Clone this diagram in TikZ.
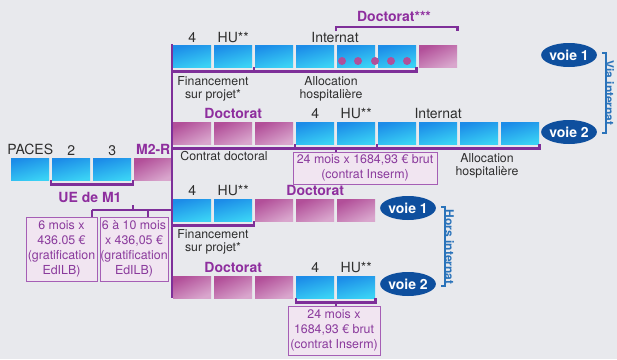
\documentclass[tikz,border=0pt]{standalone}
\usepackage{fontspec}
\setmainfont{TeX Gyre Heros}
\usetikzlibrary{shapes.geometric,positioning,calc}
\definecolor{bgc}{HTML}{E8E9ED}
\definecolor{bluA}{HTML}{1C8CE8}
\definecolor{bluB}{HTML}{3AD2F5}
\definecolor{pnkA}{HTML}{B24F99}
\definecolor{pnkB}{HTML}{D9A6CD}
\definecolor{plum}{HTML}{7E2F99}
\definecolor{phdtxt}{HTML}{8E2E9E}
\definecolor{ink}{HTML}{2E2E2E}
\definecolor{boxfill}{HTML}{F1E5F1}
\definecolor{boxline}{HTML}{A55EB5}
\definecolor{boxtxt}{HTML}{8A3A9C}
\definecolor{navy}{HTML}{0E4F9E}
\definecolor{viablue}{HTML}{2A73BA}
\definecolor{dotc}{HTML}{B0509A}

\tikzset{
  blu/.style={anchor=north west,minimum width=38pt,minimum height=22pt,inner sep=0pt,
    top color=bluA,bottom color=bluB,shading angle=15},
  pnk/.style={anchor=north west,minimum width=38pt,minimum height=22pt,inner sep=0pt,
    top color=pnkA,bottom color=pnkB,shading angle=25},
  lbl/.style={font=\fontsize{14}{14}\selectfont,text=ink,inner sep=0pt},
  phd/.style={font=\bfseries\fontsize{14}{14}\selectfont,text=phdtxt,inner sep=0pt},
  sml/.style={font=\fontsize{12.3}{13}\selectfont,text=ink,align=center,inner sep=0pt},
  pay/.style={draw=boxline,fill=boxfill,text=boxtxt,line width=1pt,align=center,
    font=\fontsize{12.4}{15}\selectfont,inner sep=0pt},
  voie/.style={ellipse,fill=navy,text=white,font=\bfseries\fontsize{14}{14}\selectfont,
    minimum width=46pt,minimum height=24pt,inner sep=0pt},
  brk/.style={draw=plum,line width=2.2pt},
  vbrk/.style={draw=viablue,line width=2pt},
  side/.style={text=viablue,font=\bfseries\fontsize{12}{12}\selectfont,rotate=-90,inner sep=0pt}
}

\begin{document}
\begin{tikzpicture}[x=1pt,y=-1pt]
\useasboundingbox[fill=bgc] (0,0) rectangle (617,359);

% trunk
\coordinate (trunkN) at (172,44);
\coordinate (trunkS) at (172,298);
\draw[brk,line width=2.8pt] (trunkN) -- (trunkS);

% PACES row
\foreach \i/\s in {1/blu,2/blu,3/blu,4/pnk}
  \node[\s] (p\i) at ({11+41*(\i-1)},158) {};
\node[lbl,above=3pt of p1] (lp1) {PACES};
\node[lbl,above=2pt of p2] (lp2) {2};
\node[lbl,above=2pt of p3] (lp3) {3};
\node[phd,above=3pt of p4] (lp4) {M2-R};

% voie 1, via internat
\foreach \i/\s in {1/blu,2/blu,3/blu,4/blu,5/blu,6/blu,7/pnk}
  \node[\s] (a\i) at ({173+41*(\i-1)},45) {};
\foreach \x in {342,358,375,391,407}
  \fill[dotc] (\x,61) circle (4pt);
\node[lbl,above=2pt of a1] (la1) {4};
\node[lbl,above=2pt of a2] (la2) {HU**};
\node[lbl,anchor=south] (la4) at (335,43) {Internat};
\node[phd,anchor=south] (la7) at (394,22) {Doctorat***};
\draw[brk] ($(a4.north east)!.5!(a5.north west)+(0,-14)$) -- ++(0,-4) -| ($(a7.north east)+(0,-14)$);
\draw[brk] (a6.south east) -- ++(0,4) -| (trunkN);
\draw[brk] ($(a2.south east)!.5!(a3.south west)$) -- ++(0,4);
\node[sml,anchor=north] (fa1) at (213,76) {Financement\\sur projet*};
\node[sml,anchor=north] (fa2) at (331,76) {Allocation\\hospitalière};

% voie 2, via internat
\foreach \i/\s in {1/pnk,2/pnk,3/pnk,4/blu,5/blu,6/blu,7/blu,8/blu,9/blu}
  \node[\s] (b\i) at ({173+41*(\i-1)},122) {};
\node[phd,above=3pt of b2] (lb2) {Doctorat};
\node[lbl,above=3pt of b4] (lb4) {4};
\node[lbl,above=3pt of b5] (lb5) {HU**};
\node[lbl,above=3pt of b7] (lb7) {Internat};
\draw[brk] (b9.south east) -- ++(0,4) -| (trunkN);
\draw[brk] ($(b3.south east)!.5!(b4.south west)$) -- ++(0,4);
\draw[brk] ($(b5.south east)!.5!(b6.south west)$) -- ++(0,4);
\node[pay,minimum width=144pt,minimum height=32pt] (pb) at (365,168)
  {24 mois x 1684,93 € brut\\(contrat Inserm)};
\draw[brk] ($(b4.south east)!.5!(b5.south west)+(0,4)$) -- (pb.north -| {$(b4.south east)!.5!(b5.south west)$});
\node[sml,anchor=north] (fb1) at (224,151) {Contrat doctoral};
\node[sml,anchor=north] (fb2) at (487,153) {Allocation\\hospitalière};

% voie 1, hors internat
\foreach \i/\s in {1/blu,2/blu,3/pnk,4/pnk,5/pnk}
  \node[\s] (c\i) at ({173+41*(\i-1)},199) {};
\node[lbl,above=3pt of c1] (lc1) {4};
\node[lbl,above=3pt of c2] (lc2) {HU**};
\node[phd,above=3pt of c4] (lc4) {Doctorat};
\draw[brk] ($(c2.south east)!.5!(c3.south west)$) -- ++(0,4) -| (trunkN);
\node[sml,anchor=north] (fc1) at (213,229) {Financement\\sur projet*};

% voie 2, hors internat
\foreach \i/\s in {1/pnk,2/pnk,3/pnk,4/blu,5/blu}
  \node[\s] (d\i) at ({173+41*(\i-1)},276) {};
\node[phd,above=3pt of d2] (ld2) {Doctorat};
\node[lbl,above=3pt of d4] (ld4) {4};
\node[lbl,above=3pt of d5] (ld5) {HU**};
\draw[brk] (d4.south west) -- ++(0,4) -| (d5.south east);
\node[pay,minimum width=92pt,minimum height=49pt] (pd) at (334,330.5)
  {24 mois x\\1684,93 € brut\\(contrat Inserm)};
\draw[brk] ($(d4.south east)!.5!(d5.south west)+(0,4)$) -- (pd.north -| {$(d4.south east)!.5!(d5.south west)$});

% UE de M1
\draw[brk] ($(p1.south east)!.5!(p2.south west)$) -- ++(0,4) -| ($(p3.south east)!.5!(p4.south west)$);
\node[phd] (ue) at (90,197) {UE de M1};
\node[pay,minimum width=71pt,minimum height=64pt] (m1a) at (61.5,249)
  {6 mois x\\436.05 €\\(gratification\\EdILB)};
\node[pay,minimum width=68pt,minimum height=64pt] (m1b) at (134,249)
  {6 à 10 mois\\x 436,05 €\\(gratification\\EdILB)};
\coordinate (ueL) at (92,210);
\draw[brk] (ueL) -- (ueL -| trunkN);
\draw[brk] (ueL) -- (ueL |- m1a.north);
\draw[brk] (m1b.north -| 148,0) -- (148,210);
\draw[brk] (133,210) -- (133,205);

% voies
\node[voie] (v1) at (569,55) {voie 1};
\node[voie] (v2) at (569,132) {voie 2};
\node[voie] (v3) at (408,208) {voie 1};
\node[voie] (v4) at (408,284) {voie 2};
\draw[vbrk] ($(v1.east)+(5,-2)$) -- ++(4,0) |- ($(v2.east)+(5,1)$);
\node[side] (via) at (609.5,93) {Via internat};
\draw[vbrk] ($(v3.east)+(5,-1)$) -- ++(4,0) |- ($(v4.east)+(5,2)$);
\node[side] (hors) at (449.5,247) {Hors internat};
\end{tikzpicture}
\end{document}
